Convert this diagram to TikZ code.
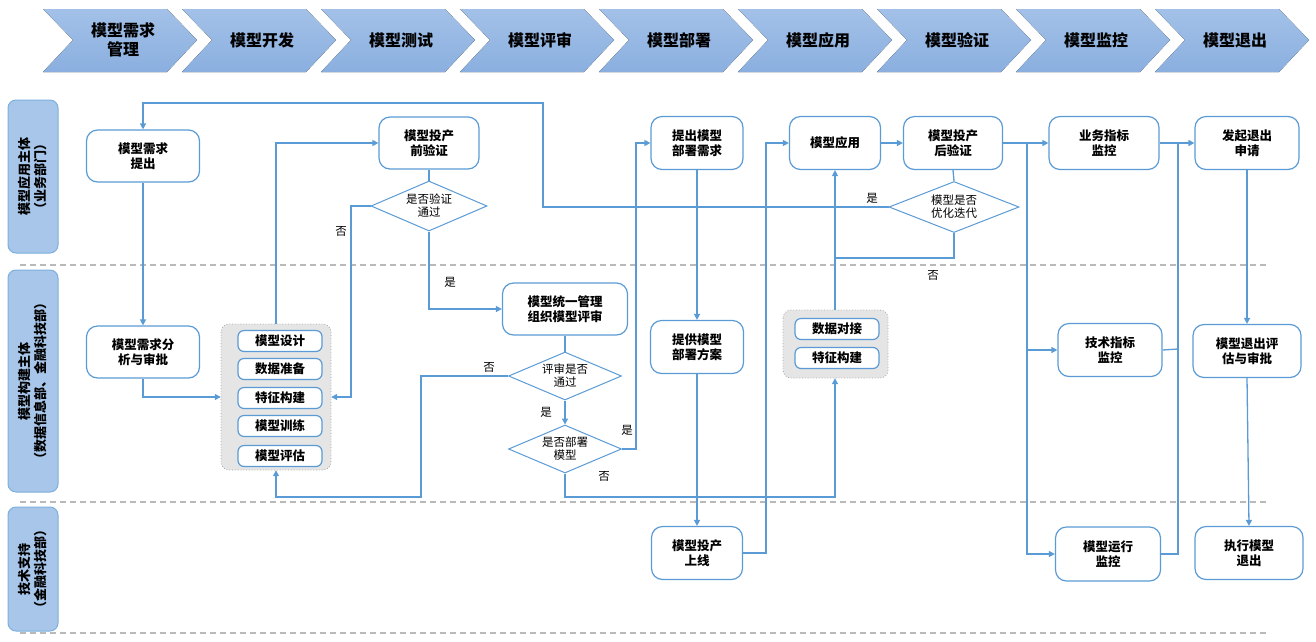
\documentclass[tikz,border=0pt]{standalone}
\usepackage{fontspec}
\setmainfont{Noto Sans CJK SC}
\usetikzlibrary{shapes.geometric,arrows.meta,calc}
\definecolor{ln}{HTML}{5B9BD5}
\definecolor{hd}{HTML}{A3C1E8}
\definecolor{hd2}{HTML}{8AAFDF}
\definecolor{lane}{HTML}{A8C6EA}
\begin{document}
\begin{tikzpicture}[x=1pt,y=-1pt,
  box/.style={draw=ln,line width=1.2pt,rounded corners=11pt,fill=white,align=center,font=\fontsize{12.5}{15}\selectfont\bfseries,inner sep=0pt},
  item/.style={draw=ln,line width=1.2pt,rounded corners=6pt,fill=white,minimum width=84pt,minimum height=21pt,font=\fontsize{12.5}{15}\selectfont\bfseries,inner sep=0pt},
  dia/.style={draw=ln,line width=1pt,diamond,aspect=2.3,fill=white,align=center,font=\fontsize{11.5}{13}\selectfont,inner sep=0pt},
  grp/.style={draw=gray!70,dotted,thick,fill=gray!20,rounded corners=8pt},
  ar/.style={draw=ln,line width=1.3pt,-{Triangle[length=6pt,width=6pt]}},
  nl/.style={draw=ln,line width=1.3pt},
  lb/.style={font=\fontsize{11.5}{13}\selectfont},
  sepline/.style={draw=gray!55,line width=1.5pt,dash pattern=on 6pt off 4pt},
  lanebox/.style={draw=ln!80,line width=1pt,rounded corners=8pt,fill=lane},
  lanetxt/.style={rotate=90,align=center,font=\fontsize{13}{16}\selectfont\bfseries}]
\useasboundingbox (0,0) rectangle (1316,641);
% header chevrons
\foreach \i/\t in {0/{模型需求\\管理},1/模型开发,2/模型测试,3/模型评审,4/模型部署,5/模型应用,6/模型验证,7/模型监控,8/模型退出}{
  \pgfmathsetmacro\L{43+139*\i}
  \fill[top color=hd,bottom color=hd2] (\L,9) -- (\L+124,9) -- (\L+154,40) -- (\L+124,72) -- (\L,72) -- (\L+30,40) -- cycle;
  \node[align=center,font=\fontsize{16}{19}\selectfont\bfseries] (h\i) at (\L+80,40) {\t};
}
% lanes
\draw[lanebox] (8,100) rectangle (58,253);
\node[lanetxt] (l1) at (33,176) {模型应用主体\\（业务部门）};
\draw[lanebox] (8,270) rectangle (58,492);
\node[lanetxt] (l2) at (33,381) {模型构建主体\\（数据信息部、金融科技部）};
\draw[lanebox] (8,507) rectangle (58,631);
\node[lanetxt] (l3) at (33,569) {技术支持\\（金融科技部）};
\draw[sepline] (20,265) -- (1269,265);
\draw[sepline] (20,502) -- (1269,502);
\draw[sepline] (20,633) -- (1269,633);
% groups
\draw[grp] (221,324) rectangle (331,470);
\node (g1) at (276,397) [minimum width=110pt,minimum height=146pt] {};
\node[item] (i1) at (280,341) {模型设计};
\node[item] (i2) at (280,369) {数据准备};
\node[item] (i3) at (280,398) {特征构建};
\node[item] (i4) at (280,426) {模型训练};
\node[item] (i5) at (280,456) {模型评估};
\draw[grp] (783,310) rectangle (888,378);
\node (g2) at (835,344) [minimum width=105pt,minimum height=68pt] {};
\node[item] (j1) at (837,329) {数据对接};
\node[item] (j2) at (837,358) {特征构建};
% nodes
\node[box,minimum width=113pt,minimum height=52pt] (n1) at (143,156) {模型需求\\提出};
\node[box,minimum width=113pt,minimum height=52pt] (n2) at (143,352) {模型需求分\\析与审批};
\node[box,minimum width=100pt,minimum height=52pt] (n3) at (429,143) {模型投产\\前验证};
\node[dia,minimum width=116pt,minimum height=50pt] (d1) at (429,206) {是否验证\\通过};
\node[box,minimum width=125pt,minimum height=52pt] (n4) at (565,309) {模型统一管理\\组织模型评审};
\node[dia,minimum width=113pt,minimum height=48pt] (d2) at (565,376) {评审是否\\通过};
\node[dia,minimum width=113pt,minimum height=48pt] (d3) at (565,449) {是否部署\\模型};
\node[box,minimum width=92pt,minimum height=53pt] (n5) at (697,143) {提出模型\\部署需求};
\node[box,minimum width=93pt,minimum height=53pt] (n6) at (697,347) {提供模型\\部署方案};
\node[box,minimum width=91pt,minimum height=53pt] (n7) at (697,553) {模型投产\\上线};
\node[box,minimum width=91pt,minimum height=53pt] (n8) at (835,143) {模型应用};
\node[box,minimum width=99pt,minimum height=53pt] (n9) at (953,143) {模型投产\\后验证};
\node[dia,minimum width=130pt,minimum height=51pt] (d4) at (954,207) {模型是否\\优化迭代};
\node[box,minimum width=110pt,minimum height=53pt] (n10) at (1104,143) {业务指标\\监控};
\node[box,minimum width=104pt,minimum height=53pt] (n11) at (1110,350) {技术指标\\监控};
\node[box,minimum width=105pt,minimum height=54pt] (n12) at (1108,554) {模型运行\\监控};
\node[box,minimum width=104pt,minimum height=53pt] (n13) at (1247,143) {发起退出\\申请};
\node[box,minimum width=108pt,minimum height=53pt] (n14) at (1247,351) {模型退出评\\估与审批};
\node[box,minimum width=108pt,minimum height=53pt] (n15) at (1249,553) {执行模型\\退出};
% connectors
\draw[ar] (d4.west) -- (543,207) -- (543,103) -- (143,103) -- (n1.north);
\node[lb] (y4) at (872,198) {是};
\draw[ar] (n1.south) -- (n2.north);
\draw[ar] (n2.south) -- (143,397) -- (g1.west |- 0,397);
\draw[ar] (g1.north -| 276,0) -- (276,143) -- (n3.west);
\draw[nl] (n3.south) -- (d1.north);
\draw[ar] (d1.west) -- (351,206) -- (351,397) -- (g1.east |- 0,397);
\node[lb] (no1) at (341,231) {否};
\draw[ar] (d1.south) -- (429,309) -- (n4.west);
\node[lb] (y1) at (450,282) {是};
\draw[nl] (n4.south) -- (d2.north);
\draw[ar] (d2.west) -- (421,376) -- (421,497) -- (276,497) -- (g1.south);
\node[lb] (no2) at (489,367) {否};
\draw[ar] (d2.south) -- (d3.north);
\node[lb] (y2) at (546,412) {是};
\draw[ar] (d3.east) -- (636,449) -- (636,143) -- (n5.west);
\node[lb] (y3) at (627,430) {是};
\draw[ar] (d3.south) -- (565,497) -- (835,497) -- (g2.south);
\node[lb] (no3) at (604,476) {否};
\draw[ar] (n5.south) -- (n6.north);
\draw[ar] (n6.south) -- (n7.north);
\draw[ar] (n7.east) -- (766,553) -- (766,143) -- (n8.west);
\draw[ar] (g2.north) -- (n8.south);
\draw[ar] (n8.east) -- (n9.west);
\draw[nl] (n9.south) -- (d4.north);
\draw[nl] (d4.south) -- (954,258) -- (835,258);
\node[lb] (no4) at (933,275) {否};
\draw[ar] (n9.east) -- (n10.west);
\draw[ar] (1027,143) -- (1027,350) -- (n11.west);
\draw[ar] (1027,350) -- (1027,554) -- (n12.west);
\draw[ar,line width=2pt] (n10.east) -- (n13.west);
\draw[nl] (n11.east) -- (1178,349);
\draw[nl] (n12.east) -- (1178,554) -- (1178,143);
\draw[ar] (n13.south) -- (n14.north);
\draw[ar] (n14.south) -- (n15.north);
\end{tikzpicture}
\end{document}
